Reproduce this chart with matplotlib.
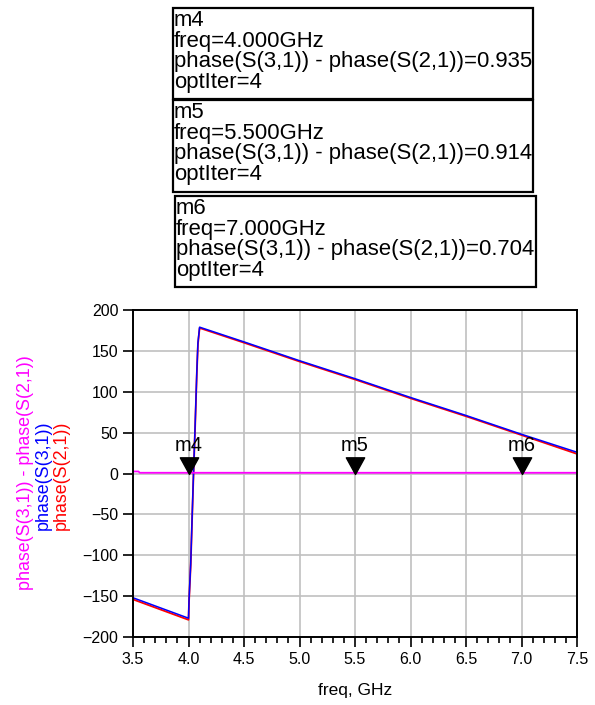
import matplotlib.pyplot as plt
from matplotlib.patches import Rectangle
from matplotlib.path import Path

plt.rcParams['font.family'] = ['Liberation Sans', 'DejaVu Sans']

# sweep points (GHz)
freq = [3.5, 4.0, 4.005, 4.02, 4.03, 4.045, 4.06, 4.075, 4.085, 4.1,
        4.5, 5.0, 5.5, 6.0, 6.5, 7.0, 7.5]
phase_s31 = [-152, -177, -154, -110, -65, 0, 60, 125, 160, 179,
             161, 138, 116, 93, 71, 48, 26]
phase_s21 = [-154, -179, -156, -112, -67, -2, 58, 123, 158, 178,
             160, 137, 115, 92, 70, 47, 24]
phase_diff_freq = [3.5, 3.55, 3.56, 7.5]
phase_diff = [2.5, 2.5, 0.9, 0.9]

marker_names = ['m4', 'm5', 'm6']
marker_freq = [4.0, 5.5, 7.0]
marker_val = [0.935, 0.914, 0.704]
marker_ftxt = ['4.000', '5.500', '7.000']

xticks = [3.5, 4.0, 4.5, 5.0, 5.5, 6.0, 6.5, 7.0, 7.5]
yticks = [-200, -150, -100, -50, 0, 50, 100, 150, 200]

W, H = 595, 705
fig = plt.figure(figsize=(W / 100, H / 100), dpi=100)
ax = fig.add_axes([133 / W, 1 - 637 / H, 444 / W, 327 / H])

ax.plot(freq, phase_s21, color='#ff0000', lw=1.3)
ax.plot(freq, phase_s31, color='#0000ff', lw=1.1)
ax.plot(phase_diff_freq, phase_diff, color='#ff00ff', lw=1.3)

# marker triangles with the tip on the trace
tri = Path([(-0.55, 1), (0.55, 1), (0, 0), (-0.55, 1)],
           [Path.MOVETO, Path.LINETO, Path.LINETO, Path.CLOSEPOLY])
for name, f in zip(marker_names, marker_freq):
    ax.plot([f], [0], marker=tri, markersize=24, color='black', zorder=5,
            clip_on=False)
    ax.annotate(name, (f, 0), xytext=(0, 13), textcoords='offset points',
                ha='center', va='bottom', fontsize=14.5)

ax.set_xlim(3.5, 7.5)
ax.set_ylim(-200, 200)
ax.set_xticks(xticks)
ax.set_xticklabels(['%.1f' % v for v in xticks])
ax.set_xticks([3.5 + 0.1 * i for i in range(41)], minor=True)
ax.set_yticks(yticks)
ax.grid(True, color='#c0c0c0', lw=1.2)
ax.tick_params(axis='both', which='major', direction='out', length=7,
               width=1.2, labelsize=11.5)
ax.tick_params(axis='x', which='minor', direction='out', length=4, width=1.2)
for s in ax.spines.values():
    s.set_linewidth(1.4)
ax.set_xlabel('freq, GHz', fontsize=12.5, labelpad=12)

# stacked coloured y labels
fig.text(26 / W, 1 - 473 / H, 'phase(S(3,1)) - phase(S(2,1))', color='#ff00ff',
         rotation=90, ha='center', va='center', fontsize=12.9)
fig.text(43 / W, 1 - 475 / H, 'phase(S(3,1))', color='#0000ff',
         rotation=90, ha='center', va='center', fontsize=12.9)
fig.text(61 / W, 1 - 475 / H, 'phase(S(2,1))', color='#ff0000',
         rotation=90, ha='center', va='center', fontsize=12.9)

# marker readout boxes
boxes = [(173, 8, 360, 91), (173, 100, 360, 92), (175, 196, 361, 91)]
for (bx, by, bw, bh), name, ft, v in zip(boxes, marker_names, marker_ftxt, marker_val):
    fig.patches.append(Rectangle((bx / W, 1 - (by + bh) / H), bw / W, bh / H,
                                 transform=fig.transFigure, fill=False,
                                 ec='black', lw=1.6))
    txt = '%s\nfreq=%sGHz\nphase(S(3,1)) - phase(S(2,1))=%.3f\noptIter=4' % (name, ft, v)
    fig.text((bx + 1) / W, 1 - (by + 2) / H, txt, ha='left', va='top',
             fontsize=15.9, linespacing=0.98)

fig.savefig('out.png', dpi=100)
